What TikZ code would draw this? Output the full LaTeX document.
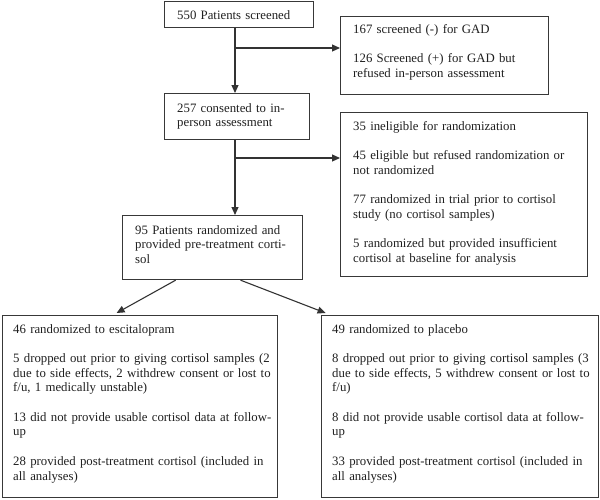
\documentclass[tikz,border=0pt]{standalone}
\usepackage{fontspec}
\setmainfont{Liberation Serif}
\usetikzlibrary{arrows.meta}
\begin{document}
\begin{tikzpicture}[x=1pt,y=-1pt,
  box/.style={draw=black!78, line width=1.2pt, inner sep=0pt, anchor=north west},
  txt/.style={anchor=base west, inner sep=0pt, text width=280pt, align=left,
    text=black!88, font=\fontsize{12.8pt}{14.7pt}\selectfont},
  arr/.style={draw=black!80, line width=1.1pt, -{Triangle[length=8pt,width=7pt]}}]
\useasboundingbox (0,0) rectangle (600,499);
% boxes
\node[box, minimum width=149pt, minimum height=26pt] (A) at (164,1) {};
\node[box, minimum width=208pt, minimum height=78pt] (B) at (340,16) {};
\node[box, minimum width=145pt, minimum height=46pt] (C) at (164,93) {};
\node[box, minimum width=247pt, minimum height=164pt] (D) at (340,112) {};
\node[box, minimum width=180pt, minimum height=64pt] (E) at (122,215) {};
\node[box, minimum width=275pt, minimum height=182pt] (F) at (2,315) {};
\node[box, minimum width=277pt, minimum height=182pt] (G) at (321,315) {};
% texts
\node[txt] (At) at (177,19) {550 Patients screened};
\node[txt] (Bt) at (353,33) {167 screened (-) for GAD\\[14.7pt]126 Screened (+) for GAD but\\refused in-person assessment};
\node[txt] (Ct) at (177,112) {257 consented to in-\\person assessment};
\node[txt] (Dt) at (353,130) {35 ineligible for randomization\\[14.7pt]45 eligible but refused randomization or\\not randomized\\[14.7pt]77 randomized in trial prior to cortisol\\study (no cortisol samples)\\[14.7pt]5 randomized but provided insufficient\\cortisol at baseline for analysis};
\node[txt] (Et) at (135,234) {95 Patients randomized and\\provided pre-treatment corti-\\sol};
\node[txt] (Ft) at (13,333) {46 randomized to escitalopram\\[14.7pt]5 dropped out prior to giving cortisol samples (2\\due to side effects, 2 withdrew consent or lost to\\f/u, 1 medically unstable)\\[14.7pt]13 did not provide usable cortisol data at follow-\\up\\[14.7pt]28 provided post-treatment cortisol (included in\\all analyses)};
\node[txt] (Gt) at (332,333) {49 randomized to placebo\\[14.7pt]8 dropped out prior to giving cortisol samples (3\\due to side effects, 5 withdrew consent or lost to\\f/u)\\[14.7pt]8 did not provide usable cortisol data at follow-\\up\\[14.7pt]33 provided post-treatment cortisol (included in\\all analyses)};
% connectors
\coordinate (vx) at (235,0);
\coordinate (b1) at (235,48);
\coordinate (b2) at (235,158);
\draw[arr] (A.south -| vx) -- (C.north -| vx);
\draw[arr] (b1) -- (b1 -| B.west);
\draw[arr] (C.south -| vx) -- (E.north -| vx);
\draw[arr] (b2) -- (b2 -| D.west);
\draw[arr] ([xshift=-37pt]E.south) -- ([xshift=-23.5pt,yshift=2pt]F.north);
\draw[arr] ([xshift=28pt]E.south) -- ([xshift=-134.5pt,yshift=2pt]G.north);
\end{tikzpicture}
\end{document}
